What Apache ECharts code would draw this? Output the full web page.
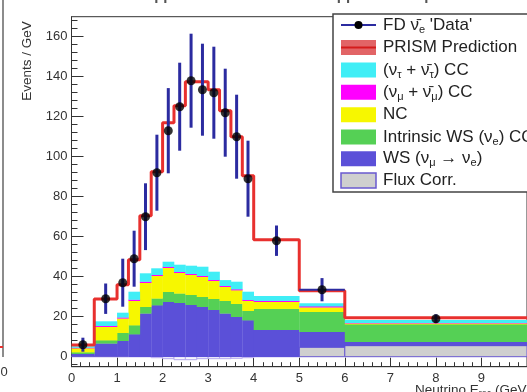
<!DOCTYPE html>
<html><head><meta charset="utf-8">
<script src="https://cdn.jsdelivr.net/npm/echarts@6/dist/echarts.min.js"></script>
<style>html,body{margin:0;padding:0;background:#fff}#c{width:527px;height:392px}</style>
</head><body><div id="c"></div>
<script>
// ---- data (Events / GeV) ----
const binLow  = [0, 0.5, 1, 1.25, 1.5, 1.75, 2, 2.25, 2.5, 2.75, 3, 3.25, 3.5, 3.75, 4, 5, 6];
const binHigh = [0.5, 1, 1.25, 1.5, 1.75, 2, 2.25, 2.5, 2.75, 3, 3.25, 3.5, 3.75, 4, 5, 6, 10];
const fluxCorr     = [0.3, 0.3, 0.3, 0, 0, -0.5, -1, -1.5, -1.5, -1, -1, -1, -0.8, -0.5, 0, 4.7, 5.5];
const wsNumuToNue  = [1.2, 6.4, 7.7, 11.3, 21.7, 25.8, 27.5, 27, 26, 25, 23.5, 21.7, 20, 18.3, 13.5, 7.8, 2];
const intrinsicWS  = [0.8, 1.6, 4, 4.5, 3.3, 3.4, 5, 4.7, 5, 5, 5.5, 6.3, 6.5, 4.7, 10.5, 10, 8.8];
const ncBkg        = [2, 6.7, 7.2, 12.2, 12, 11.3, 12, 10.3, 10, 10, 9, 7, 6.8, 5, 3.5, 2.2, 0.4];
const numuCC       = [0.3, 0.5, 0.5, 0.6, 0.6, 0.5, 0.5, 0.5, 0.5, 0.5, 0.5, 0.5, 0.5, 0.5, 0.5, 0.6, 0.3];
const nutauCC      = [0.6, 2.2, 2.3, 3.9, 4.1, 3.2, 2.5, 3.5, 4, 4.5, 4, 2.8, 3.7, 4, 2.3, 1.4, 1.3];
const prismPred    = [5.8, 28.8, 36, 48.5, 70.5, 92.5, 117, 125.5, 137.5, 137.5, 133.5, 123, 110, 90.5, 58.5, 33, 19.5];
const fdData       = [6, 29, 37, 49, 70, 92, 113, 125, 138, 133.5, 132, 122, 110, 89, 58, 33.5, 19];
const fdDataErr    = [3.5, 7.6, 12, 14, 16.7, 19, 21.3, 22, 23.5, 23, 23, 22, 21, 19, 7.6, 5.8, 2.2];
const fdDataXErr   = [0, 0, 0, 0, 0, 0, 0, 0, 0, 0, 0, 0, 0, 0, 0, 0.5, 0];
const yMajorTicks  = [0, 20, 40, 60, 80, 100, 120, 140, 160];
const yMinorTicks  = [-4, 4, 8, 12, 16, 24, 28, 32, 36, 44, 48, 52, 56, 64, 68, 72, 76, 84, 88, 92, 96, 104, 108, 112, 116, 124, 128, 132, 136, 144, 148, 152, 156, 164, 168];

const FONT = '"Liberation Sans", Arial, Helvetica, sans-serif';
const COL = {
  flux: '#cfcfcf', fluxEdge: '#6a5ad0', blue: '#5b50d8', green: '#55d055',
  yellow: '#f7f700', magenta: '#ff00ff', cyan: '#40eef6', red: '#e8302e', err: '#2b2ba0'
};

// ---- stacks ----
const layers = [
  {vals: wsNumuToNue, color: COL.blue},
  {vals: intrinsicWS, color: COL.green},
  {vals: ncBkg, color: COL.yellow},
  {vals: numuCC, color: COL.magenta},
  {vals: nutauCC, color: COL.cyan}
];
const stackSeries = [];
stackSeries.push({
  type: 'custom', z: 1, silent: true,
  data: binLow.map((lo, i) => [lo, binHigh[i], 0, fluxCorr[i]]),
  renderItem: (p, api) => {
    const a = api.coord([api.value(0), Math.max(api.value(2), api.value(3))]);
    const b = api.coord([api.value(1), Math.min(api.value(2), api.value(3))]);
    const pos = api.value(3) > 0;
    return {type: 'rect', shape: {x: a[0], y: a[1], width: b[0] - a[0], height: b[1] - a[1]},
      style: {fill: pos ? COL.flux : '#f6f5fd', stroke: pos ? COL.fluxEdge : '#b4a8ee', lineWidth: 1}};
  }
});
const cum = fluxCorr.map(v => Math.max(v, 0));
layers.forEach(L => {
  const data = binLow.map((lo, i) => {
    const b = cum[i]; cum[i] += L.vals[i];
    return [lo, binHigh[i], b, cum[i]];
  });
  stackSeries.push({
    type: 'custom', z: 1, silent: true, data,
    renderItem: (p, api) => {
      const a = api.coord([api.value(0), api.value(3)]);
      const b = api.coord([api.value(1), api.value(2)]);
      return {type: 'rect', shape: {x: a[0], y: a[1], width: b[0] - a[0] + 0.3, height: b[1] - a[1] + 0.3},
        style: {fill: L.color}};
    }
  });
});

const predLine = binLow.map((lo, i) => [lo, prismPred[i]]).concat([[binHigh[binHigh.length - 1], prismPred[prismPred.length - 1]]]);
const dataPts = binLow.map((lo, i) => [(lo + binHigh[i]) / 2, fdData[i]]);
const errData = binLow.map((lo, i) => [(lo + binHigh[i]) / 2, fdData[i], fdDataErr[i], fdDataXErr[i]]);

const chart = echarts.init(document.getElementById('c'), null, {renderer: 'canvas'});

function extraGraphics() {
  const g = [];
  const x0 = 341, w = 35, h = 15, tx = 383;
  const ys = [25, 47.5, 70, 92.3, 114.8, 137, 158.8, 180.5];
  g.push({type: 'rect', shape: {x: 333, y: 14, width: 220, height: 178}, style: {fill: '#fff', stroke: '#444', lineWidth: 1.5}, z: 10});
  g.push({type: 'line', shape: {x1: x0, y1: ys[0], x2: x0 + w, y2: ys[0]}, style: {stroke: COL.err, lineWidth: 2}, z: 11});
  g.push({type: 'circle', shape: {cx: x0 + w / 2, cy: ys[0], r: 4}, style: {fill: '#000'}, z: 12});
  g.push({type: 'rect', shape: {x: x0, y: ys[1] - h / 2, width: w, height: h}, style: {fill: '#e26466'}, z: 11});
  g.push({type: 'line', shape: {x1: x0, y1: ys[1], x2: x0 + w, y2: ys[1]}, style: {stroke: '#d41c1c', lineWidth: 2}, z: 12});
  const fills = [COL.cyan, COL.magenta, COL.yellow, COL.green, COL.blue, COL.flux];
  fills.forEach((f, k) => {
    g.push({type: 'rect', shape: {x: x0, y: ys[k + 2] - h / 2, width: w, height: h},
      style: {fill: f, stroke: k === 5 ? COL.fluxEdge : null, lineWidth: k === 5 ? 1.5 : 0}, z: 11});
  });
  const rich = {
    s: {fontSize: 11, fontFamily: FONT, fill: '#222', lineHeight: 11, verticalAlign: 'bottom'},
    n: {fontSize: 17, fontFamily: FONT, fill: '#222', lineHeight: 20}
  };
  const texts = [
    "{n|FD ν̄}{s|e}{n| 'Data'}",
    '{n|PRISM Prediction}',
    '{n|(ν}{s|τ}{n| + ν̄}{s|τ}{n|) CC}',
    '{n|(ν}{s|μ}{n| + ν̄}{s|μ}{n|) CC}',
    '{n|NC}',
    '{n|Intrinsic WS (ν}{s|e}{n|) CC}',
    '{n|WS (ν}{s|μ}{n| → ν}{s|e}{n|)}',
    '{n|Flux Corr.}'
  ];
  texts.forEach((t, k) => {
    g.push({type: 'text', x: tx, y: ys[k], z: 12,
      style: {text: t, rich, verticalAlign: 'middle', align: 'left', fontFamily: FONT, fontSize: 17, fill: '#222'}});
  });
  g.push({type: 'text', x: 27, y: 61, rotation: Math.PI / 2, z: 12,
    style: {text: 'Events / GeV', fontFamily: FONT, fontSize: 13.5, fill: '#333', align: 'center', verticalAlign: 'middle'}});
  g.push({type: 'text', x: 415, y: 390, z: 12,
    style: {text: '{n|Neutrino E}{s|rec}{n| (GeV)}', rich: {
      n: {fontSize: 13.5, fontFamily: FONT, fill: '#333', lineHeight: 16},
      s: {fontSize: 9, fontFamily: FONT, fill: '#333', lineHeight: 8, verticalAlign: 'bottom'}},
      verticalAlign: 'middle', align: 'left'}});
  // cut-off panel title at the very top
  g.push({type: 'text', x: 298, y: -4, z: 12,
    style: {text: 'Disappearance and neutrino appearance ν̄μ → ν̄e', fontFamily: FONT, fontSize: 15, fontWeight: 'bold',
      fill: '#555', align: 'center', verticalAlign: 'middle'}});
  // edge of neighbouring panel
  g.push({type: 'line', shape: {x1: 3, y1: 0, x2: 3, y2: 357}, style: {stroke: '#666', lineWidth: 1.5}, z: 12});
  g.push({type: 'line', shape: {x1: 0, y1: 347, x2: 3, y2: 347}, style: {stroke: COL.red, lineWidth: 2}, z: 12});
  g.push({type: 'text', x: 4, y: 372, z: 12,
    style: {text: '0', fontFamily: FONT, fontSize: 13, fill: '#333', align: 'center', verticalAlign: 'middle'}});
  return g;
}

chart.setOption({
  animation: false,
  backgroundColor: '#fff',
  grid: {left: 71.5, top: 16.7, width: 467, height: 350, show: true, borderColor: '#333', borderWidth: 1, backgroundColor: 'transparent'},
  xAxis: {
    type: 'value', min: 0, max: 10, interval: 1,
    axisLine: {show: true, onZero: false, lineStyle: {color: '#333', width: 1}},
    axisTick: {show: true, inside: true, length: 9, lineStyle: {color: '#333'}},
    minorTick: {show: true, splitNumber: 5, length: 4.5, lineStyle: {color: '#333'}},
    axisLabel: {show: true, margin: 5, fontSize: 13, fontFamily: FONT, color: '#333', showMaxLabel: false},
    splitLine: {show: false}
  },
  yAxis: [{
    type: 'value', min: -5, max: 170,
    axisLine: {show: true, onZero: false, lineStyle: {color: '#333', width: 1}},
    axisTick: {show: true, inside: true, length: 12, customValues: yMajorTicks, lineStyle: {color: '#333'}},
    axisLabel: {show: true, margin: 4, fontSize: 13, fontFamily: FONT, color: '#333', customValues: yMajorTicks},
    splitLine: {show: false}
  }, {
    type: 'value', min: -5, max: 170, position: 'left',
    axisLine: {show: false},
    axisTick: {show: true, inside: true, length: 6, customValues: yMinorTicks, lineStyle: {color: '#333'}},
    axisLabel: {show: false},
    splitLine: {show: false}
  }],
  series: stackSeries.concat([
    {type: 'line', z: 3, data: predLine, step: 'end', symbol: 'none', silent: true,
      lineStyle: {color: COL.red, width: 3}},
    {type: 'custom', z: 4, silent: true, data: errData,
      renderItem: (p, api) => {
        const xc = api.value(0), yv = api.value(1), ey = api.value(2), ex = api.value(3);
        const top = api.coord([xc, yv + ey]);
        const bot = api.coord([xc, yv - ey]);
        const children = [
          {type: 'line', shape: {x1: top[0], y1: top[1], x2: bot[0], y2: bot[1]}, style: {stroke: COL.err, lineWidth: 3}}
        ];
        if (ex > 0) {
          const l = api.coord([xc - ex, yv]);
          const r = api.coord([xc + ex, yv]);
          children.push({type: 'line', shape: {x1: l[0], y1: l[1], x2: r[0], y2: r[1]}, style: {stroke: COL.err, lineWidth: 2}});
        }
        return {type: 'group', children};
      }},
    {type: 'scatter', z: 5, data: dataPts, symbol: 'circle', symbolSize: 9, silent: true,
      itemStyle: {color: '#000'}}
  ]),
  graphic: extraGraphics()
});
</script></body></html>
